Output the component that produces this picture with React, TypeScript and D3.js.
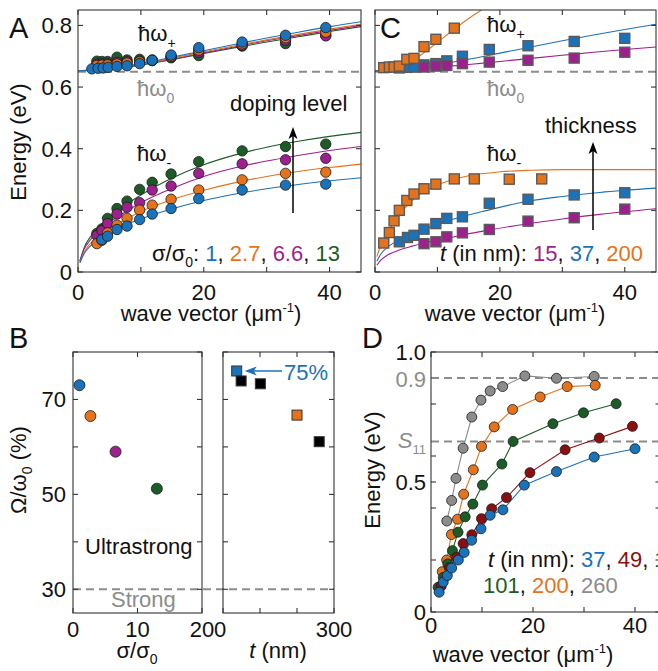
import React from 'react';
import * as d3 from 'd3';

// ---------- colours ----------
const BLUE = '#1a72bb';
const ORANGE = '#e4731c';
const MAGENTA = '#9e1f8e';
const GREEN = '#1c5c26';
const DARKRED = '#8a1010';
const GREY = '#8c8c8c';
const FONT = 'Liberation Sans, Arial, Helvetica, sans-serif';

// ---------- Panel A data (doping level) ----------
const aSeriesNames = ['13', '6.6', '2.7', '1'];
const aColors = [GREEN, MAGENTA, ORANGE, BLUE];
const aLowX13 = [3.0, 3.8, 4.7, 6.2, 7.8, 9.8, 11.8, 14.8, 19.2, 26.1, 33, 39.4];
const aLowY13 = [0.125, 0.14, 0.174, 0.206, 0.23, 0.268, 0.291, 0.318, 0.358, 0.393, 0.407, 0.415];
const aLowX66 = [3.0, 3.8, 4.7, 6.2, 7.8, 9.8, 11.8, 14.8, 19.2, 26.1, 33, 39.4];
const aLowY66 = [0.118, 0.134, 0.157, 0.188, 0.21, 0.225, 0.266, 0.279, 0.32, 0.351, 0.364, 0.369];
const aLowX27 = [3.0, 3.8, 4.7, 6.2, 7.8, 9.8, 11.8, 14.8, 19.2, 26.1, 33, 39.4];
const aLowY27 = [0.092, 0.103, 0.127, 0.152, 0.174, 0.201, 0.217, 0.236, 0.266, 0.299, 0.32, 0.324];
const aLowX1 = [3.8, 4.7, 6.2, 7.8, 9.8, 11.8, 14.8, 19.2, 26.1, 33, 39.4];
const aLowY1 = [0.105, 0.116, 0.138, 0.149, 0.17, 0.188, 0.206, 0.238, 0.266, 0.282, 0.285];

const aUpX = [3.0, 3.8, 4.7, 6.2, 7.8, 9.8, 11.8, 14.8, 19.2, 26.1, 33, 39.4];
const aUpY13 = [0.684, 0.683, 0.683, 0.697, 0.688, 0.69, 0.688, 0.695, 0.702, 0.733, 0.741, 0.768];
const aUpY66 = [0.674, 0.675, 0.676, 0.68, 0.682, 0.684, 0.686, 0.698, 0.713, 0.735, 0.752, 0.766];
const aUpY27 = [0.67, 0.671, 0.672, 0.675, 0.678, 0.682, 0.686, 0.7, 0.72, 0.74, 0.76, 0.778];
const aUpX1 = [2.2, 3.2, 4.0, 4.8, 6.2, 7.8, 9.8, 11.8, 14.8, 19.2, 26.1, 33, 39.4];
const aUpY1 = [0.659, 0.661, 0.662, 0.664, 0.667, 0.669, 0.676, 0.687, 0.704, 0.728, 0.746, 0.768, 0.793];

// fitted curves (knots)
const fitX = [0.3, 1, 2, 4, 6, 10, 15, 20, 25, 30, 35, 40, 45];
const fitALow13 = [0.035, 0.08, 0.115, 0.16, 0.195, 0.25, 0.305, 0.348, 0.38, 0.405, 0.424, 0.44, 0.453];
const fitALow66 = [0.035, 0.075, 0.105, 0.145, 0.175, 0.225, 0.272, 0.31, 0.338, 0.36, 0.378, 0.394, 0.407];
const fitALow27 = [0.03, 0.065, 0.093, 0.125, 0.152, 0.196, 0.235, 0.265, 0.29, 0.31, 0.326, 0.339, 0.35];
const fitALow1 = [0.03, 0.06, 0.085, 0.115, 0.138, 0.172, 0.205, 0.232, 0.253, 0.27, 0.284, 0.296, 0.306];
const fitUpX = [0, 5, 10, 15, 20, 25, 30, 35, 40, 45];
const fitAUp13 = [0.653, 0.658, 0.671, 0.689, 0.709, 0.728, 0.746, 0.763, 0.78, 0.796];
const fitAUp66 = [0.653, 0.659, 0.673, 0.691, 0.711, 0.731, 0.75, 0.767, 0.784, 0.8];
const fitAUp27 = [0.653, 0.66, 0.675, 0.694, 0.714, 0.734, 0.753, 0.771, 0.788, 0.804];
const fitAUp1 = [0.653, 0.66, 0.677, 0.697, 0.718, 0.739, 0.759, 0.778, 0.796, 0.812];

// ---------- Panel C data (thickness) ----------
const cLowX200 = [1.4, 2.3, 3.05, 3.9, 5.1, 6.25, 7.85, 9.75, 12.7, 15.9, 21.5, 26.7];
const cLowY200 = [0.094, 0.128, 0.166, 0.2, 0.232, 0.253, 0.27, 0.285, 0.302, 0.302, 0.301, 0.302];
const cUpX200 = [1.4, 2.3, 3.05, 3.9, 5.1, 6.25, 7.85, 9.75, 12.7];
const cUpY200 = [0.663, 0.665, 0.665, 0.668, 0.69, 0.693, 0.731, 0.755, 0.791];
const cX37 = [3.9, 5.2, 6.25, 7.85, 9.75, 11.5, 14.0, 18.3, 24.5, 31.9, 40.0];
const cLowY37 = [0.098, 0.112, 0.119, 0.139, 0.157, 0.174, 0.179, 0.223, 0.236, 0.25, 0.257];
const cUpY37 = [0.662, 0.664, 0.665, 0.672, 0.676, 0.685, 0.7, 0.722, 0.734, 0.748, 0.758];
const cX15 = [7.85, 9.75, 11.5, 14.0, 18.3, 24.5, 31.9, 40.0];
const cLowY15 = [0.092, 0.098, 0.114, 0.127, 0.138, 0.165, 0.176, 0.204];
const cUpY15 = [0.665, 0.668, 0.67, 0.676, 0.681, 0.687, 0.694, 0.713];

const fitCLowX200 = [0.3, 1, 2, 3, 5, 7, 10, 15, 20, 25, 30, 45];
const fitCLowY200 = [0.05, 0.09, 0.13, 0.16, 0.212, 0.25, 0.282, 0.312, 0.325, 0.33, 0.332, 0.332];
const fitCLowX = [0.3, 1, 2, 4, 6, 8, 10, 14, 18, 24, 30, 36, 45];
const fitCLowY37 = [0.035, 0.06, 0.08, 0.105, 0.122, 0.138, 0.155, 0.18, 0.2, 0.228, 0.245, 0.258, 0.272];
const fitCLowY15 = [0.022, 0.04, 0.055, 0.072, 0.084, 0.095, 0.103, 0.12, 0.135, 0.155, 0.172, 0.187, 0.205];
const fitCUpX200 = [0, 2, 4, 6, 8, 10, 12, 14, 16, 18];
const fitCUpY200 = [0.653, 0.657, 0.667, 0.686, 0.714, 0.745, 0.777, 0.808, 0.836, 0.862];
const fitCUpY37 = [0.652, 0.658, 0.672, 0.69, 0.71, 0.73, 0.75, 0.769, 0.787, 0.804];
const fitCUpY15 = [0.652, 0.656, 0.664, 0.673, 0.683, 0.693, 0.703, 0.713, 0.722, 0.73];

// ---------- Panel B data ----------
const bSigma = [1, 2.7, 6.6, 13];
const bSigmaVal = [73, 66.5, 59, 51.2];
const bSigmaColors = [BLUE, ORANGE, MAGENTA, GREEN];
const bThick = [37, 49, 101, 200, 260];
const bThickVal = [76, 73.9, 73.3, 66.7, 61.1];
const bThickColors = [BLUE, '#000', '#000', ORANGE, '#000'];

// ---------- Panel D data ----------
const dX37 = [1.6, 2.4, 3.2, 4.05, 5.36, 6.5, 7.97, 9.8, 11.6, 14.1, 18.3, 24.6, 32.0, 40.0];
const dY37 = [0.076, 0.115, 0.14, 0.169, 0.2, 0.229, 0.276, 0.32, 0.372, 0.393, 0.488, 0.54, 0.596, 0.628];
const dX49 = [2.0, 3.6, 5.0, 6.3, 8.0, 9.9, 11.9, 14.8, 19.4, 26.3, 33.0, 39.5];
const dY49 = [0.1, 0.17, 0.21, 0.263, 0.297, 0.359, 0.397, 0.44, 0.536, 0.624, 0.669, 0.714];
const dX101 = [1.4, 2.4, 3.3, 4.2, 5.3, 6.7, 8.2, 10.1, 13.9, 16.1, 23.9, 29.9, 36.3];
const dY101 = [0.095, 0.133, 0.185, 0.236, 0.307, 0.366, 0.415, 0.488, 0.569, 0.656, 0.724, 0.766, 0.801];
const dX200 = [2.2, 3.07, 4.0, 5.2, 6.4, 8.3, 9.9, 12.4, 16.0, 21.4, 26.7, 32.2];
const dY200 = [0.155, 0.2, 0.298, 0.357, 0.453, 0.547, 0.637, 0.712, 0.779, 0.827, 0.867, 0.872];
const dX260 = [3.1, 4.05, 4.9, 6.3, 8.0, 9.8, 11.6, 14.05, 18.4, 24.6, 32.0];
const dY260 = [0.35, 0.429, 0.514, 0.63, 0.75, 0.815, 0.85, 0.867, 0.908, 0.899, 0.906];
const dOmega0 = 0.9;
const dS11 = 0.656;

const zip = (xs: number[], ys: number[]) => xs.map((x, i) => [x, ys[i]] as [number, number]);

// ---------- scales ----------
const xA = d3.scaleLinear().domain([0, 45]).range([78, 361]);
const yA = d3.scaleLinear().domain([0, 0.85]).range([272, 10]);
const xC = d3.scaleLinear().domain([0, 45]).range([375, 656]);
const yC = yA;
const xB1 = d3.scaleLinear().domain([0, 20]).range([73, 202]);
const xB2 = d3.scaleLinear().domain([0, 300]).range([223, 334]);
const yB = d3.scaleLinear().domain([25, 80]).range([613, 352]);
const xD = d3.scaleLinear().domain([0, 45]).range([431, 660.5]);
const yD = d3.scaleLinear().domain([0, 1]).range([612, 352]);

const AX = '#333';

function Box({ x, y, xt, yt }: any) {
  const [x0, x1] = x.range();
  const [y0, y1] = y.range();
  const L = 5;
  return (
    <g stroke={AX} strokeWidth={1.1} fill="none">
      <rect x={x0} y={y1} width={x1 - x0} height={y0 - y1} />
      {xt.map((t: number, i: number) => (
        <g key={'x' + i}>
          <line x1={x(t)} x2={x(t)} y1={y0} y2={y0 - L} />
          <line x1={x(t)} x2={x(t)} y1={y1} y2={y1 + L} />
        </g>
      ))}
      {yt.map((t: number, i: number) => (
        <g key={'y' + i}>
          <line x1={x0} x2={x0 + L} y1={y(t)} y2={y(t)} />
          <line x1={x1} x2={x1 - L} y1={y(t)} y2={y(t)} />
        </g>
      ))}
    </g>
  );
}

function WaveLabel({ cx, y }: { cx: number; y: number }) {
  return (
    <text x={cx} y={y} textAnchor="middle" fontSize={22} fontFamily={FONT} fill="#111">
      wave vector (μm<tspan dy={-9} fontSize={13}>-1</tspan><tspan dy={9}>)</tspan>
    </text>
  );
}

function HW({ x, y, sub, fill = '#111' }: any) {
  return (
    <text x={x} y={y} fontSize={22} fontFamily={FONT} fill={fill}>
      ħω<tspan dy={7} fontSize={14}>{sub}</tspan>
    </text>
  );
}

function Circles({ pts, x, y, color, r = 5.2 }: any) {
  return (
    <g>
      {pts.map((p: [number, number], i: number) => (
        <circle key={i} cx={x(p[0])} cy={y(p[1])} r={r} fill={color} stroke="#1a1a1a" strokeWidth={0.8} />
      ))}
    </g>
  );
}

function Squares({ pts, x, y, color, s = 10, stroke = '#5a5a5a', sw = 1.4 }: any) {
  return (
    <g>
      {pts.map((p: [number, number], i: number) => (
        <rect key={i} x={x(p[0]) - s / 2} y={y(p[1]) - s / 2} width={s} height={s} fill={color} stroke={stroke} strokeWidth={sw} />
      ))}
    </g>
  );
}

function Curve({ pts, x, y, color, smooth = true, clip }: any) {
  const line = d3
    .line<[number, number]>()
    .x((d) => x(d[0]))
    .y((d) => y(d[1]))
    .curve(smooth ? d3.curveMonotoneX : d3.curveLinear);
  return <path d={line(pts) || ''} fill="none" stroke={color} strokeWidth={1.1} clipPath={clip} />;
}

function Arrow({ x, y1, y2 }: any) {
  return (
    <g>
      <line x1={x} x2={x} y1={y1} y2={y2 + 8} stroke="#000" strokeWidth={1.5} />
      <polygon points={`${x},${y2} ${x - 4.5},${y2 + 12} ${x},${y2 + 9} ${x + 4.5},${y2 + 12}`} fill="#000" />
    </g>
  );
}

export default function App() {
  const aLow = [zip(aLowX13, aLowY13), zip(aLowX66, aLowY66), zip(aLowX27, aLowY27), zip(aLowX1, aLowY1)];
  const aUp = [zip(aUpX, aUpY13), zip(aUpX, aUpY66), zip(aUpX, aUpY27), zip(aUpX1, aUpY1)];
  const aFitLow = [fitALow13, fitALow66, fitALow27, fitALow1].map((ys) => zip(fitX, ys));
  const aFitUp = [fitAUp13, fitAUp66, fitAUp27, fitAUp1].map((ys) => zip(fitUpX, ys));

  const yticksA = [0, 0.2, 0.4, 0.6, 0.8];
  const xticksA = [0, 10, 20, 30, 40];

  const dSeries = [
    { xs: dX260, ys: dY260, c: GREY },
    { xs: dX200, ys: dY200, c: ORANGE },
    { xs: dX101, ys: dY101, c: GREEN },
    { xs: dX49, ys: dY49, c: DARKRED },
    { xs: dX37, ys: dY37, c: BLUE },
  ];

  return (
    <svg width={658} height={671} style={{ position: 'absolute', left: 0, top: 0, background: '#fff' }} fontFamily={FONT}>
      <defs>
        <clipPath id="clipA"><rect x={78} y={10} width={283} height={262} /></clipPath>
        <clipPath id="clipC"><rect x={375} y={10} width={281} height={262} /></clipPath>
      </defs>
      <rect x={0} y={0} width={658} height={671} fill="#fff" />

      {/* ================= Panel A ================= */}
      <line x1={78} x2={361} y1={yA(0.65)} y2={yA(0.65)} stroke={GREY} strokeWidth={2} strokeDasharray="8,5" />
      <g clipPath="url(#clipA)">
        {aFitUp.map((p, i) => <Curve key={'afu' + i} pts={p} x={xA} y={yA} color={aColors[i]} />)}
        {aFitLow.map((p, i) => <Curve key={'afl' + i} pts={p} x={xA} y={yA} color={aColors[i]} />)}
      </g>
      {aUp.map((p, i) => <Circles key={'au' + i} pts={p} x={xA} y={yA} color={aColors[i]} />)}
      {aLow.map((p, i) => <Circles key={'al' + i} pts={p} x={xA} y={yA} color={aColors[i]} />)}
      <Box x={xA} y={yA} xt={xticksA} yt={yticksA} />
      {yticksA.map((t) => (
        <text key={t} x={72} y={yA(t) + 8} textAnchor="end" fontSize={22} fill="#111">{t === 0 ? '0' : t.toFixed(1)}</text>
      ))}
      {[0, 20, 40].map((t) => (
        <text key={t} x={xA(t)} y={300} textAnchor="middle" fontSize={22} fill="#111">{t}</text>
      ))}
      <WaveLabel cx={211} y={321} />
      <text transform="translate(26,142) rotate(-90)" textAnchor="middle" fontSize={22} fill="#111">Energy (eV)</text>
      <HW x={138} y={41} sub="+" />
      <HW x={137} y={96} sub="0" fill={GREY} />
      <HW x={137} y={161} sub="-" />
      <text x={230} y={111} fontSize={22} fill="#111">doping level</text>
      <Arrow x={293} y1={213} y2={127} />
      <text x={152} y={261} fontSize={22} fill="#111">
        σ/σ<tspan dy={6} fontSize={14}>0</tspan><tspan dy={-6}>: </tspan>
        <tspan fill={BLUE}>1</tspan>, <tspan fill={ORANGE}>2.7</tspan>, <tspan fill={MAGENTA}>6.6</tspan>, <tspan fill={GREEN}>13</tspan>
      </text>
      <text x={9} y={38} fontSize={29} fill="#111">A</text>

      {/* ================= Panel C ================= */}
      <line x1={375} x2={656} y1={yC(0.65)} y2={yC(0.65)} stroke={GREY} strokeWidth={2} strokeDasharray="8,5" />
      <g clipPath="url(#clipC)">
        <Curve pts={zip(fitCUpX200, fitCUpY200)} x={xC} y={yC} color={ORANGE} />
        <Curve pts={zip(fitUpX, fitCUpY37)} x={xC} y={yC} color={BLUE} />
        <Curve pts={zip(fitUpX, fitCUpY15)} x={xC} y={yC} color={MAGENTA} />
        <Curve pts={zip(fitCLowX200, fitCLowY200)} x={xC} y={yC} color={ORANGE} />
        <Curve pts={zip(fitCLowX, fitCLowY37)} x={xC} y={yC} color={BLUE} />
        <Curve pts={zip(fitCLowX, fitCLowY15)} x={xC} y={yC} color={MAGENTA} />
      </g>
      <Squares pts={zip(cX37, cUpY37)} x={xC} y={yC} color={BLUE} />
      <Squares pts={zip(cX15, cUpY15)} x={xC} y={yC} color={MAGENTA} />
      <Squares pts={zip(cUpX200, cUpY200)} x={xC} y={yC} color={ORANGE} />
      <Squares pts={zip(cLowX200, cLowY200)} x={xC} y={yC} color={ORANGE} />
      <Squares pts={zip(cX37, cLowY37)} x={xC} y={yC} color={BLUE} />
      <Squares pts={zip(cX15, cLowY15)} x={xC} y={yC} color={MAGENTA} />
      <Box x={xC} y={yC} xt={xticksA} yt={yticksA} />
      {[0, 20, 40].map((t) => (
        <text key={t} x={xC(t)} y={300} textAnchor="middle" fontSize={22} fill="#111">{t}</text>
      ))}
      <WaveLabel cx={515} y={321} />
      <HW x={487} y={32} sub="+" />
      <HW x={487} y={96} sub="0" fill={GREY} />
      <HW x={487} y={161} sub="-" />
      <text x={545} y={133} fontSize={22} fill="#111">thickness</text>
      <Arrow x={593} y1={230} y2={142} />
      <text x={440} y={261} fontSize={22} fill="#111">
        <tspan fontStyle="italic">t</tspan> (in nm): <tspan fill={MAGENTA}>15</tspan>, <tspan fill={BLUE}>37</tspan>, <tspan fill={ORANGE}>200</tspan>
      </text>
      <text x={380} y={38} fontSize={29} fill="#111">C</text>

      {/* ================= Panel B ================= */}
      <line x1={73} x2={334} y1={yB(30)} y2={yB(30)} stroke={GREY} strokeWidth={2} strokeDasharray="8,5" />
      {bSigma.map((s, i) => (
        <circle key={i} cx={xB1(s)} cy={yB(bSigmaVal[i])} r={5.5} fill={bSigmaColors[i]} stroke="#1a1a1a" strokeWidth={0.8} />
      ))}
      {bThick.map((t, i) => (
        <rect key={i} x={xB2(t) - 5} y={yB(bThickVal[i]) - 5} width={10} height={10} fill={bThickColors[i]} stroke="#333" strokeWidth={1} />
      ))}
      <Box x={xB1} y={yB} xt={[0, 10, 20]} yt={[30, 40, 50, 60, 70, 80]} />
      <Box x={xB2} y={yB} xt={[0, 100, 200, 300]} yt={[30, 40, 50, 60, 70, 80]} />
      {[30, 50, 70].map((t) => (
        <text key={t} x={66} y={yB(t) + 8} textAnchor="end" fontSize={22} fill="#111">{t}</text>
      ))}
      {[0, 10, 20].map((t) => (
        <text key={t} x={xB1(t)} y={637} textAnchor="middle" fontSize={22} fill="#111">{t}</text>
      ))}
      {[0, 300].map((t) => (
        <text key={t} x={xB2(t) - (t === 0 ? 3 : 0)} y={637} textAnchor="middle" fontSize={22} fill="#111">{t}</text>
      ))}
      <text x={137} y={658} textAnchor="middle" fontSize={22} fill="#111">
        σ/σ<tspan dy={6} fontSize={14}>0</tspan>
      </text>
      <text x={278} y={658} textAnchor="middle" fontSize={22} fill="#111">
        <tspan fontStyle="italic">t</tspan> (nm)
      </text>
      <text transform="translate(26,470) rotate(-90)" textAnchor="middle" fontSize={22} fill="#111">
        Ω/ω<tspan dy={6} fontSize={14}>0</tspan><tspan dy={-6}> (%)</tspan>
      </text>
      <text x={85} y={554} fontSize={22} fill="#111">Ultrastrong</text>
      <text x={111} y={607} fontSize={22} fill={GREY}>Strong</text>
      <line x1={282} x2={252} y1={yB(76)} y2={yB(76)} stroke={BLUE} strokeWidth={1.5} />
      <polygon points={`${xB2(37) + 8},${yB(76)} ${xB2(37) + 20},${yB(76) - 4.5} ${xB2(37) + 17},${yB(76)} ${xB2(37) + 20},${yB(76) + 4.5}`} fill={BLUE} />
      <text x={284} y={yB(76) + 9} fontSize={22} fill={BLUE}>75%</text>
      <text x={9} y={348} fontSize={29} fill="#111">B</text>

      {/* ================= Panel D ================= */}
      <line x1={431} x2={660} y1={yD(dOmega0)} y2={yD(dOmega0)} stroke={GREY} strokeWidth={2} strokeDasharray="8,5" />
      <line x1={431} x2={660} y1={yD(dS11)} y2={yD(dS11)} stroke={GREY} strokeWidth={2} strokeDasharray="8,5" />
      {dSeries.map((s, i) => (
        <Curve key={'dl' + i} pts={zip(s.xs, s.ys)} x={xD} y={yD} color={s.c} smooth={false} />
      ))}
      {dSeries.map((s, i) => (
        <Circles key={'dc' + i} pts={zip(s.xs, s.ys)} x={xD} y={yD} color={s.c} r={5} />
      ))}
      <Box x={xD} y={yD} xt={[0, 10, 20, 30, 40]} yt={[0, 0.2, 0.4, 0.5, 0.6, 0.8, 1.0]} />
      {[[1.0, '1.0'], [0.5, '0.5'], [0, '0']].map(([v, l]: any) => (
        <text key={l} x={426} y={yD(v) + 8} textAnchor="end" fontSize={22} fill="#111">{l}</text>
      ))}
      <text x={426} y={yD(dOmega0) + 9} textAnchor="end" fontSize={22} fill={GREY}>0.9</text>
      <text x={426} y={yD(dS11) + 7} textAnchor="end" fontSize={22} fill={GREY}>
        <tspan fontStyle="italic">S</tspan><tspan dy={6} fontSize={13}>11</tspan>
      </text>
      {[0, 20, 40].map((t) => (
        <text key={t} x={xD(t)} y={633} textAnchor="middle" fontSize={22} fill="#111">{t}</text>
      ))}
      <WaveLabel cx={523} y={662} />
      <text transform="translate(380,470) rotate(-90)" textAnchor="middle" fontSize={22} fill="#111">Energy (eV)</text>
      <text x={488} y={567} fontSize={22} fill="#111">
        <tspan fontStyle="italic">t</tspan> (in nm): <tspan fill={BLUE}>37</tspan>, <tspan fill={DARKRED}>49</tspan>, <tspan fill={GREEN}>1</tspan>
      </text>
      <text x={483} y={593} fontSize={22} fill="#111">
        <tspan fill={GREEN}>101</tspan>, <tspan fill={ORANGE}>200</tspan>, <tspan fill={GREY}>260</tspan>
      </text>
      <text x={362} y={348} fontSize={29} fill="#111">D</text>
    </svg>
  );
}
